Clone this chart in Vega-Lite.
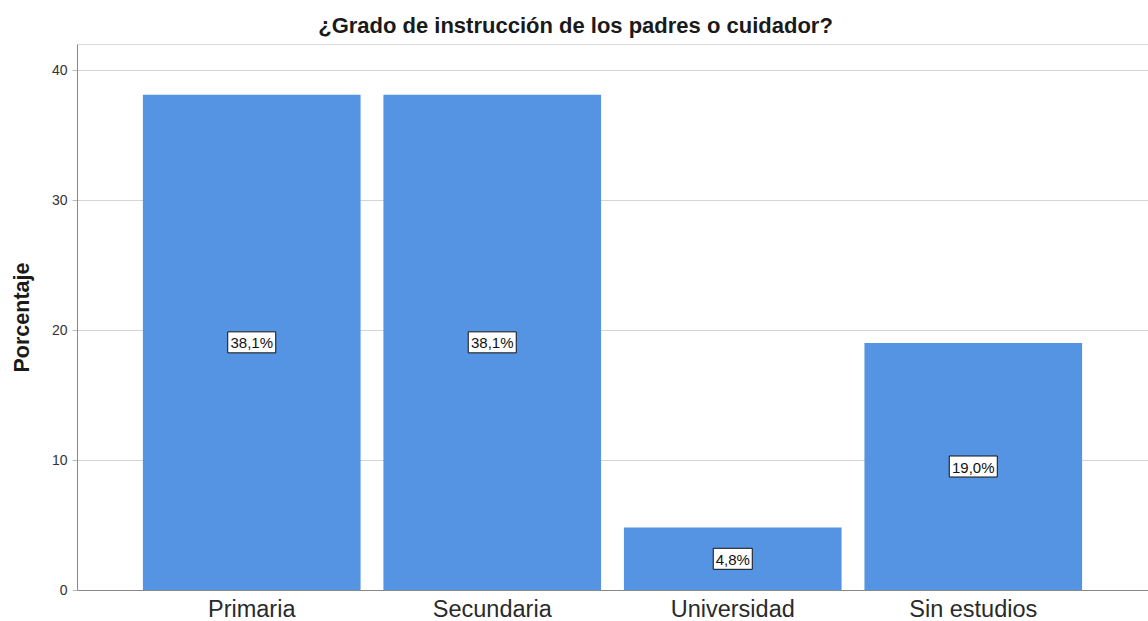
{
  "$schema": "https://vega.github.io/schema/vega-lite/v6.json",
  "width": 1071,
  "height": 546,
  "autosize": {"type": "none"},
  "padding": {"left": 77, "top": 44, "right": 0, "bottom": 31},
  "background": "white",
  "title": {
    "text": "¿Grado de instrucción de los padres o cuidador?",
    "anchor": "middle",
    "frame": "group",
    "dx": -37,
    "dy": 21,
    "offset": 5,
    "baseline": "bottom",
    "font": "Liberation Sans",
    "fontSize": 22,
    "fontWeight": "bold",
    "color": "#1a1a1a"
  },
  "data": {
    "values": [
      {"nivel": "Primaria", "pct": 38.1, "label": "38,1%"},
      {"nivel": "Secundaria", "pct": 38.1, "label": "38,1%"},
      {"nivel": "Universidad", "pct": 4.8, "label": "4,8%"},
      {"nivel": "Sin estudios", "pct": 19.0, "label": "19,0%"}
    ]
  },
  "encoding": {
    "x": {
      "field": "nivel",
      "type": "nominal",
      "sort": null,
      "scale": {"paddingInner": 0.095, "paddingOuter": 0.274},
      "axis": {
        "title": null,
        "labelAngle": 0,
        "ticks": false,
        "labelPadding": 7,
        "labelFont": "Liberation Sans",
        "labelFontSize": 23.5,
        "labelColor": "#2a2a2a",
        "domainColor": "#888888",
        "grid": false
      }
    }
  },
  "layer": [
    {
      "mark": {"type": "bar", "color": "#5594e2"},
      "encoding": {
        "y": {
          "field": "pct",
          "type": "quantitative",
          "scale": {"domain": [0, 42], "nice": false},
          "axis": {
            "title": "Porcentaje",
            "titleFont": "Liberation Sans",
            "titleFontSize": 21.5,
            "titleFontWeight": "bold",
            "titleColor": "#1a1a1a",
            "titleX": -44,
            "titleY": 273,
            "titleAlign": "center",
            "titleBaseline": "bottom",
            "values": [0, 10, 20, 30, 40],
            "labelFont": "Liberation Sans",
            "labelFontSize": 14,
            "labelColor": "#333333",
            "labelPadding": 5,
            "tickSize": 5,
            "tickColor": "#bbbbbb",
            "domainColor": "#888888",
            "gridColor": "#d4d4d4",
            "grid": true
          }
        }
      }
    },
    {
      "encoding": {
        "y": {
          "field": "pct",
          "type": "quantitative",
          "scale": {"domain": [0, 84], "nice": false},
          "axis": null
        }
      },
      "layer": [
        {
          "transform": [{"filter": "datum.pct >= 10"}],
          "mark": {
            "type": "point",
            "shape": "M-0.96,-0.42L0.96,-0.42L0.96,0.42L-0.96,0.42Z",
            "size": 2500,
            "filled": true,
            "fill": "white",
            "stroke": "#111111",
            "strokeWidth": 1,
            "opacity": 1
          }
        },
        {
          "transform": [{"filter": "datum.pct < 10"}],
          "mark": {
            "type": "point",
            "shape": "M-0.78,-0.42L0.78,-0.42L0.78,0.42L-0.78,0.42Z",
            "size": 2500,
            "filled": true,
            "fill": "white",
            "stroke": "#111111",
            "strokeWidth": 1,
            "opacity": 1
          }
        },
        {
          "mark": {
            "type": "text",
            "font": "Liberation Sans",
            "fontSize": 15,
            "color": "#111111",
            "baseline": "middle",
            "align": "center",
            "dy": 1
          },
          "encoding": {"text": {"field": "label"}}
        }
      ]
    }
  ],
  "resolve": {"scale": {"y": "independent"}}
}
